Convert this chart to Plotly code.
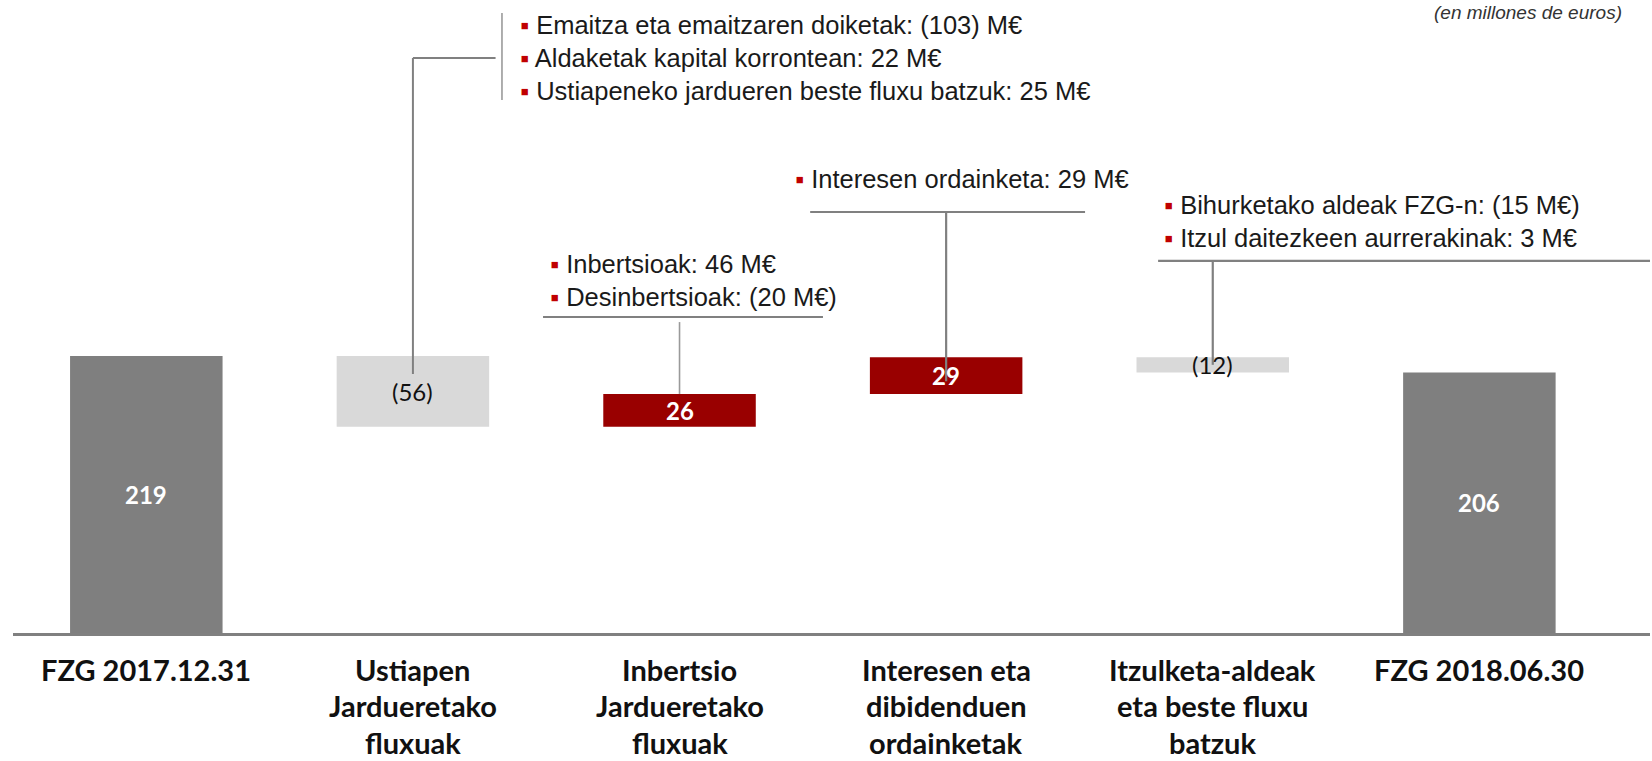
import numpy as np
import plotly.graph_objects as go

# ---------------- data ----------------
categories = [
    "FZG 2017.12.31",
    "Ustiapen<br>Jardueretako<br>fluxuak",
    "Inbertsio<br>Jardueretako<br>fluxuak",
    "Interesen eta<br>dibidenduen<br>ordainketak",
    "Itzulketa-aldeak<br>eta beste fluxu<br>batzuk",
    "FZG 2018.06.30",
]
values = [219, -56, 26, 29, -12, 206]
measures = ["absolute", "relative", "relative", "relative", "relative", "total"]
value_labels = ["219", "(56)", "26", "29", "(12)", "206"]

callout_ustiapen = [
    "Emaitza eta emaitzaren doiketak: (103) M€",
    "Aldaketak kapital korrontean: 22 M€",
    "Ustiapeneko jardueren beste fluxu batzuk: 25 M€",
]
callout_inbertsio = ["Inbertsioak: 46 M€", "Desinbertsioak: (20 M€)"]
callout_interesen = ["Interesen ordainketa: 29 M€"]
callout_itzulketa = ["Bihurketako aldeak FZG-n: (15 M€)", "Itzul daitezkeen aurrerakinak: 3 M€"]
unit_note = "(en millones de euros)"

# ---------------- styles ----------------
C_TOTAL = "#7F7F7F"
C_DEC = "#D9D9D9"
C_INC = "#990000"
C_BULLET = "#C00000"
C_LINE = "#808080"
C_LINE_LIGHT = "#9A9A9A"
X_RANGE = [-0.5, 5.64]
Y_RANGE = [0, 500.4]

xs = list(range(len(categories)))

# bar spans from the waterfall logic (for label placement)
bottoms, tops = [], []
running = 0.0
for v, m in zip(values, measures):
    if m == "absolute":
        b, t = 0, v
        running = v
    elif m == "total":
        b, t = 0, running
    else:
        b, t = running, running + v
        running += v
    bottoms.append(min(b, t))
    tops.append(max(b, t))
mids = [(b + t) / 2 for b, t in zip(bottoms, tops)]

fig = go.Figure()
fig.add_trace(go.Waterfall(
    x=xs, y=values, measure=measures, width=0.572,
    increasing=dict(marker=dict(color=C_INC)),
    decreasing=dict(marker=dict(color=C_DEC)),
    totals=dict(marker=dict(color=C_TOTAL)),
    connector=dict(visible=False),
    textposition="none", hoverinfo="skip", showlegend=False,
))

annotations = []
# value labels inside bars
for i, (lab, mid, v, m) in enumerate(zip(value_labels, mids, values, measures)):
    dark = (m == "relative" and v < 0)
    annotations.append(dict(
        x=i, y=mid, xref="x", yref="y", text=lab, showarrow=False,
        xanchor="center", yanchor="middle",
        font=dict(family="Lato, Open Sans, sans-serif", size=24,
                  color="#111111" if dark else "white",
                  weight="normal" if dark else "bold"),
    ))

# category labels (one annotation per line for the wider line spacing)
cat_font = dict(family="Lato, Open Sans, sans-serif", size=29, color="#111111", weight="bold")
for i, cat in enumerate(categories):
    for j, line in enumerate(cat.split("<br>")):
        annotations.append(dict(
            x=i, y=0, xref="x", yref="paper", text=line, showarrow=False,
            xanchor="center", yanchor="middle", yshift=-36 - 36.5 * j,
            font=cat_font,
        ))


def bullets(lines):
    return "<br>".join(f"<span style='color:{C_BULLET}'>▪</span> {t}" for t in lines)


callout_font = dict(family="Liberation Sans, Arial, sans-serif", size=25.5, color="#1A1A1A")
callouts = [
    (callout_ustiapen, 1.394, 454.5),
    (callout_inbertsio, 1.506, 278.7),
    (callout_interesen, 2.426, 358.9),
    (callout_itzulketa, 3.81, 325.3),
]
for lines, cx, cy in callouts:
    annotations.append(dict(
        x=cx, y=cy, xref="x", yref="y", text=bullets(lines), showarrow=False,
        xanchor="left", yanchor="middle", align="left", font=callout_font,
    ))

annotations.append(dict(
    x=0.984, y=1.0, xref="paper", yref="paper", text=unit_note, showarrow=False,
    xanchor="right", yanchor="top",
    font=dict(family="Liberation Sans, Arial, sans-serif", size=19, color="#333333", style="italic"),
))

shapes = []


def seg(x0, y0, x1, y1, color=C_LINE, width=2.2):
    shapes.append(dict(type="line", xref="x", yref="y", x0=x0, y0=y0, x1=x1, y1=y1,
                       line=dict(color=color, width=width), layer="above"))


# callout 1 (Ustiapen)
seg(1.334, 490.1, 1.334, 421.3, C_LINE_LIGHT, 1.6)
seg(1.0, 454.5, 1.31, 454.5, C_LINE, 2.0)
seg(1.0, 454.5, 1.0, 204.7, C_LINE, 2.0)
# callout 2 (Inbertsio)
seg(1.488, 249.8, 2.538, 249.8, C_LINE, 2.2)
seg(2.0, 245.8, 2.0, tops[2], C_LINE_LIGHT, 1.6)
# callout 3 (Interesen)
seg(2.49, 332.8, 3.521, 332.8, C_LINE, 2.2)
seg(3.0, 332.8, 3.0, 199, C_LINE, 2.2)
# callout 4 (Itzulketa)
seg(3.795, 294.1, X_RANGE[1], 294.1, C_LINE, 2.2)
seg(4.0, 294.1, 4.0, 212, C_LINE, 2.2)

fig.update_layout(
    width=1652, height=761,
    margin=dict(l=13, r=2, t=0, b=128, pad=0),
    paper_bgcolor="white", plot_bgcolor="white",
    showlegend=False,
    annotations=annotations, shapes=shapes,
    xaxis=dict(
        range=X_RANGE, tickmode="array", tickvals=xs, showticklabels=False,
        showline=True, linecolor=C_LINE, linewidth=2.5, showgrid=False, zeroline=False,
        ticks="", fixedrange=True,
    ),
    yaxis=dict(range=Y_RANGE, visible=False, showgrid=False, zeroline=False, fixedrange=True),
)

fig.write_html("out.html", config={"displayModeBar": False},
               post_script="document.body.style.margin='0';")
